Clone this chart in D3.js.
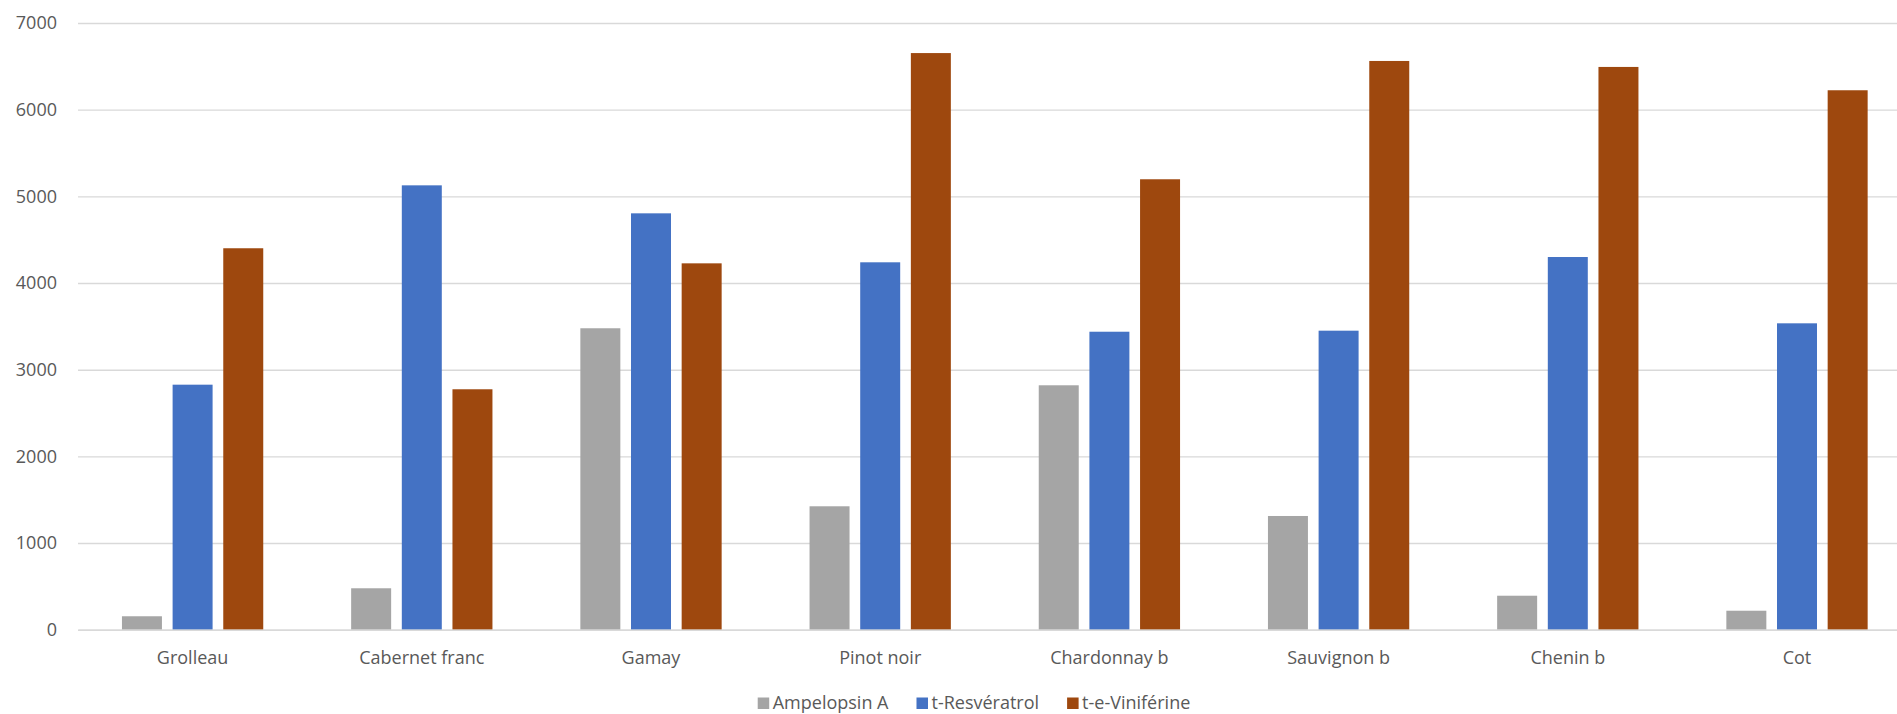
<!DOCTYPE html>
<html>
<head>
<meta charset="utf-8">
<script src="https://cdn.jsdelivr.net/npm/d3@7"></script>
<style>
  html, body { margin: 0; padding: 0; background: #fff; }
  svg { display: block; font-family: "Open Sans", sans-serif; }
</style>
</head>
<body>
<svg id="chart" width="1897" height="714"></svg>
<script>
const categories = ["Grolleau", "Cabernet franc", "Gamay", "Pinot noir", "Chardonnay b", "Sauvignon b", "Chenin b", "Cot"];
const seriesNames = ["Ampelopsin A", "t-Resvératrol", "t-e-Viniférine"];
const ampelopsinA = [155, 478, 3478, 1424, 2820, 1312, 392, 219];
const tResveratrol = [2827, 5127, 4804, 4239, 3438, 3450, 4300, 3535];
const teViniferine = [4401, 2774, 4227, 6653, 5197, 6562, 6493, 6224];
const yTicks = [0, 1000, 2000, 3000, 4000, 5000, 6000, 7000];
const colors = ["#A5A5A5", "#4472C4", "#9E480E"];

const seriesValues = [ampelopsinA, tResveratrol, teViniferine];

const svg = d3.select("#chart");
const plotLeft = 78, plotRight = 1911.6, plotTop = 23, plotBottom = 629.7;

const x0 = d3.scaleBand().domain(categories).range([plotLeft, plotRight]).padding(0);
const groupW = 141.3;
const x1 = d3.scaleBand().domain(seriesNames).range([0, groupW]).paddingInner(10.67 / 50.67).paddingOuter(0);
const y = d3.scaleLinear().domain([0, 7000]).range([plotBottom, plotTop]);

// gridlines + y labels
const yAxis = svg.append("g")
  .attr("transform", `translate(${plotLeft},0)`)
  .call(d3.axisLeft(y).tickValues(yTicks).tickSizeInner(-(plotRight - plotLeft)).tickSizeOuter(0).tickPadding(21).tickFormat(d3.format("d")));
yAxis.select(".domain").remove();
yAxis.selectAll(".tick line").attr("stroke", "#D9D9D9").attr("stroke-width", 1.4);
yAxis.selectAll(".tick text").attr("fill", "#595959").style("font-size", "18px").style("font-family", "'Open Sans', sans-serif");

// bars
const groups = svg.append("g").selectAll("g")
  .data(categories)
  .join("g")
  .attr("transform", d => `translate(${x0(d) + (x0.bandwidth() - groupW) / 2},0)`);

groups.selectAll("rect")
  .data((c, ci) => seriesNames.map((s, si) => ({ s, si, v: seriesValues[si][ci] })))
  .join("rect")
  .attr("x", d => x1(d.s))
  .attr("width", x1.bandwidth())
  .attr("y", d => y(d.v))
  .attr("height", d => y(0) - y(d.v))
  .attr("fill", d => colors[d.si]);

// x axis baseline + labels
const xAxis = svg.append("g")
  .attr("transform", `translate(0,${plotBottom})`)
  .call(d3.axisBottom(x0).tickSize(0));
xAxis.select(".domain").attr("stroke", "#D9D9D9").attr("stroke-width", 1.6);
xAxis.selectAll(".tick text")
  .attr("dy", null)
  .attr("y", 34.3)
  .attr("fill", "#595959")
  .style("font-size", "18px")
  .style("font-family", "'Open Sans', sans-serif");

// legend
const sq = 11.5, textOff = 15;
const legend = svg.append("g");
const items = legend.selectAll("g").data(seriesNames).join("g");
items.append("rect").attr("width", sq).attr("height", sq).attr("y", -sq).attr("fill", (d, i) => colors[i]);
items.append("text").attr("x", textOff).attr("y", 0).text(d => d)
  .attr("fill", "#595959").style("font-size", "18px").style("font-family", "'Open Sans', sans-serif");
let widths = [];
items.each(function () { widths.push(textOff + d3.select(this).select("text").node().getComputedTextLength()); });
const gap = 28;
const total = d3.sum(widths) + gap * (widths.length - 1);
let cx = 974 - total / 2;
items.attr("transform", (d, i) => {
  const t = `translate(${cx},709)`;
  cx += widths[i] + gap;
  return t;
});
</script>
</body>
</html>
